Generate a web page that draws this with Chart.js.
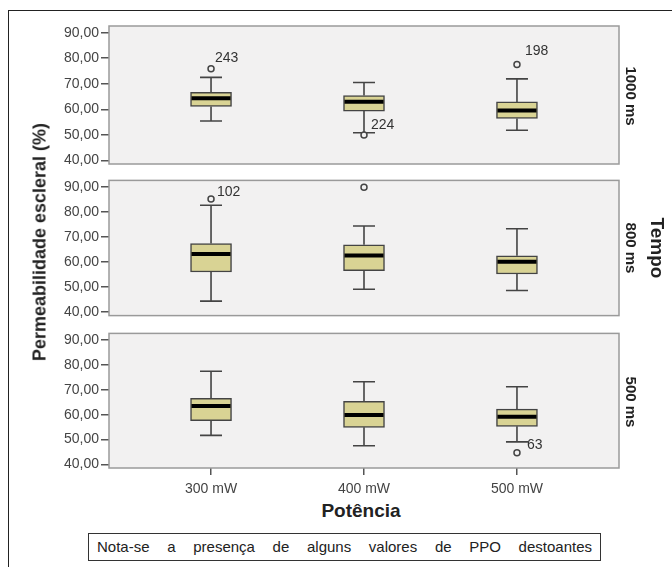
<!DOCTYPE html>
<html>
<head>
<meta charset="utf-8">
<script src="https://cdn.jsdelivr.net/npm/chart.js@4.4.0/dist/chart.umd.min.js"></script>
<style>
  html, body { margin: 0; padding: 0; background: #fff; }
  body { width: 672px; height: 567px; position: relative; overflow: hidden; font-family: "Liberation Sans", Arial, sans-serif; }
  #frame { position: absolute; left: 8px; top: 10px; right: -4px; bottom: -4px; border-left: 1.5px solid #222; border-top: 1.5px solid #222; }
  canvas.panel { position: absolute; left: 0; }
  .vlab { position: absolute; font-weight: bold; color: #222; writing-mode: vertical-rl; white-space: nowrap; transform: translate(-50%, -50%); }
  #ytitle { position: absolute; left: 40px; top: 242px; font-weight: bold; font-size: 18px; color: #222; white-space: nowrap; transform: translate(-50%, -50%) rotate(-90deg); }
  #xtitle { position: absolute; left: 361px; top: 511px; font-weight: bold; font-size: 19px; color: #222; transform: translate(-50%, -50%); }
  #note { position: absolute; left: 88px; top: 533px; width: 495px; height: 26px; padding: 0 8px; border: 1px solid #333; font-size: 15px; line-height: 26px; color: #222; text-align: justify; text-align-last: justify; }
</style>
</head>
<body>
<div id="frame"></div>
<canvas class="panel" id="c1000" width="672" height="160" style="top:15px"></canvas>
<canvas class="panel" id="c800" width="672" height="156" style="top:170px"></canvas>
<canvas class="panel" id="c500" width="672" height="171" style="top:323px"></canvas>
<div id="ytitle">Permeabilidade escleral (%)</div>
<div id="xtitle">Potência</div>
<div class="vlab" style="left:631px; top:96px; font-size:15px">1000 ms</div>
<div class="vlab" style="left:631px; top:248px; font-size:15px">800 ms</div>
<div class="vlab" style="left:657px; top:248px; font-size:19px">Tempo</div>
<div class="vlab" style="left:631px; top:402px; font-size:15px">500 ms</div>
<div id="note">Nota-se a presença de alguns valores de PPO destoantes</div>
<script>
const categories = ['300 mW', '400 mW', '500 mW'];
const yTicks = [40, 50, 60, 70, 80, 90];

// Tempo 1000 ms
const low1000 = [55.4, 50.8, 51.8];
const q1_1000 = [61.1, 59.3, 56.4];
const med1000 = [64.3, 63.0, 59.5];
const q3_1000 = [66.6, 65.4, 62.9];
const high1000 = [72.5, 70.5, 71.9];
const outCat1000 = [0, 1, 2];
const outVal1000 = [75.9, 49.9, 77.5];
const outId1000 = ['243', '224', '198'];

// Tempo 800 ms
const low800 = [44.4, 49.1, 48.6];
const q1_800 = [56.0, 56.5, 55.2];
const med800 = [63.2, 62.6, 60.1];
const q3_800 = [67.4, 66.9, 62.5];
const high800 = [82.7, 74.4, 73.3];
const outCat800 = [0, 1];
const outVal800 = [85.2, 89.9];
const outId800 = ['102', ''];

// Tempo 500 ms
const low500 = [51.7, 47.5, 49.1];
const q1_500 = [57.6, 54.9, 55.3];
const med500 = [63.5, 59.9, 59.2];
const q3_500 = [66.6, 65.3, 62.2];
const high500 = [77.4, 73.2, 71.2];
const outCat500 = [2];
const outVal500 = [44.7];
const outId500 = ['63'];

const font = '"Liberation Sans", Arial, sans-serif';
const labelOffsets = { '243': [4, -11], '224': [7, -10], '198': [8, -13], '102': [6, -7], '63': [10, -8] };

const boxParts = {
  id: 'boxParts',
  beforeDraw(chart) {
    const a = chart.chartArea, ctx = chart.ctx;
    ctx.save();
    ctx.fillStyle = '#f2f1f1';
    ctx.fillRect(a.left, a.top, a.right - a.left, a.bottom - a.top);
    ctx.restore();
  },
  beforeDatasetsDraw(chart, args, opts) {
    const ctx = chart.ctx, x = chart.scales.x, y = chart.scales.y;
    ctx.save();
    ctx.strokeStyle = '#444';
    ctx.lineWidth = 1.6;
    opts.low.forEach(function (lo, i) {
      const px = x.getPixelForValue(i);
      const pLo = y.getPixelForValue(lo), pHi = y.getPixelForValue(opts.high[i]);
      ctx.beginPath();
      ctx.moveTo(px, pLo); ctx.lineTo(px, y.getPixelForValue(opts.q1[i]));
      ctx.moveTo(px, pHi); ctx.lineTo(px, y.getPixelForValue(opts.q3[i]));
      ctx.moveTo(px - 11, pLo); ctx.lineTo(px + 11, pLo);
      ctx.moveTo(px - 11, pHi); ctx.lineTo(px + 11, pHi);
      ctx.stroke();
    });
    ctx.restore();
  },
  afterDatasetsDraw(chart, args, opts) {
    const ctx = chart.ctx, x = chart.scales.x, y = chart.scales.y;
    ctx.save();
    ctx.strokeStyle = '#000';
    ctx.lineWidth = 4;
    opts.med.forEach(function (m, i) {
      const px = x.getPixelForValue(i), py = y.getPixelForValue(m);
      ctx.beginPath();
      ctx.moveTo(px - 19.5, py); ctx.lineTo(px + 19.5, py);
      ctx.stroke();
    });
    ctx.fillStyle = '#333';
    ctx.font = '14px ' + font;
    ctx.textAlign = 'left';
    ctx.textBaseline = 'middle';
    opts.outId.forEach(function (id, i) {
      if (!id) return;
      const off = labelOffsets[id] || [6, -8];
      ctx.fillText(id, x.getPixelForValue(opts.outCat[i]) + off[0], y.getPixelForValue(opts.outVal[i]) + off[1]);
    });
    ctx.restore();
  },
  afterDraw(chart) {
    const a = chart.chartArea, ctx = chart.ctx;
    ctx.save();
    ctx.strokeStyle = '#9a9a9a';
    ctx.lineWidth = 1.5;
    ctx.strokeRect(a.left, a.top, a.right - a.left, a.bottom - a.top);
    ctx.restore();
  }
};

function makePanel(id, low, q1, med, q3, high, outCat, outVal, outId, showX, pad) {
  return new Chart(document.getElementById(id), {
    type: 'bar',
    data: {
      datasets: [{
        type: 'bar',
        data: q1.map(function (v, i) { return { x: i, y: [v, q3[i]] }; }),
        backgroundColor: '#d9d394',
        borderColor: '#444',
        borderWidth: 1.5,
        borderSkipped: false,
        barThickness: 41
      }, {
        type: 'scatter',
        data: outCat.map(function (c, i) { return { x: c, y: outVal[i] }; }),
        pointRadius: 3,
        pointBorderWidth: 1.5,
        pointBackgroundColor: '#f2f1f1',
        pointBorderColor: '#444'
      }]
    },
    options: {
      responsive: false,
      animation: false,
      layout: { padding: { top: pad[0], bottom: pad[1], left: 0, right: 53 } },
      plugins: {
        legend: { display: false },
        tooltip: { enabled: false },
        boxParts: { low: low, q1: q1, med: med, q3: q3, high: high, outCat: outCat, outVal: outVal, outId: outId }
      },
      scales: {
        x: {
          type: 'linear',
          min: -0.667,
          max: 2.667,
          offset: false,
          display: showX,
          afterBuildTicks: function (s) { s.ticks = categories.map(function (c, i) { return { value: i }; }); },
          afterFit: function (s) { if (showX) s.height = 26; },
          border: { display: false },
          grid: { offset: false, drawOnChartArea: false, drawTicks: true, tickLength: 7, color: '#555', lineWidth: 1.5 },
          ticks: { color: '#444', font: { family: font, size: 14 }, padding: 6, maxRotation: 0, autoSkip: false,
            callback: function (v) { return categories[v]; } }
        },
        y: {
          min: 38.6,
          max: 92.6,
          afterBuildTicks: function (s) { s.ticks = yTicks.map(function (v) { return { value: v }; }); },
          afterFit: function (s) { s.width = 109; },
          border: { display: false },
          grid: { drawOnChartArea: false, drawTicks: true, tickLength: 8, color: '#555', lineWidth: 1.5 },
          ticks: { color: '#444', font: { family: font, size: 14 }, padding: 2,
            callback: function (v) { return v.toFixed(2).replace('.', ','); } }
        }
      }
    },
    plugins: [boxParts]
  });
}

makePanel('c1000', low1000, q1_1000, med1000, q3_1000, high1000, outCat1000, outVal1000, outId1000, false, [11, 11]);
makePanel('c800', low800, q1_800, med800, q3_800, high800, outCat800, outVal800, outId800, false, [8, 8]);
makePanel('c500', low500, q1_500, med500, q3_500, high500, outCat500, outVal500, outId500, true, [9, 0]);
</script>
</body>
</html>
